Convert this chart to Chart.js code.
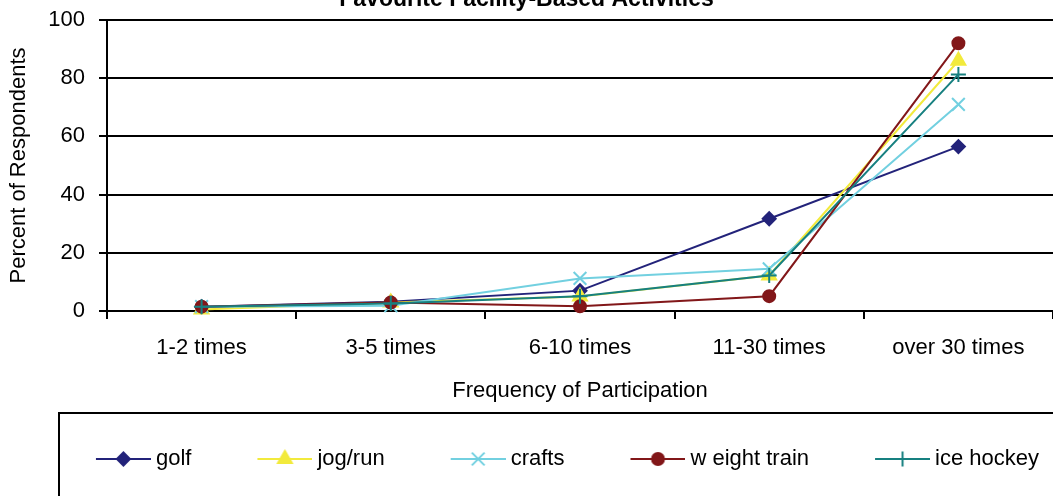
<!DOCTYPE html>
<html><head><meta charset="utf-8">
<script src="https://cdn.jsdelivr.net/npm/chart.js@4.4.0/dist/chart.umd.min.js"></script>
<style>
html,body{margin:0;padding:0;width:1053px;height:496px;overflow:hidden;background:#fff;}
#wrap{position:absolute;left:0;top:-20px;width:1053px;height:516px;}
canvas{display:block;}
</style></head><body>
<div id="wrap"><canvas id="c" width="1053" height="516"></canvas></div>
<script>
const categories = ['1-2 times', '3-5 times', '6-10 times', '11-30 times', 'over 30 times'];
const seriesNames = ['golf', 'jog/run', 'crafts', 'w eight train', 'ice hockey'];
const golf = [1.5, 3.2, 7.0, 31.7, 56.5];
const jogRun = [0.5, 2.9, 5.0, 12.2, 86.0];
const crafts = [1.5, 1.8, 11.2, 14.5, 71.0];
const weightTrain = [1.5, 2.9, 1.6, 5.1, 92.0];
const iceHockey = [1.5, 2.6, 5.1, 12.2, 81.3];
const yMin = 0, yMax = 100, yStep = 20;

const FONT = "'Liberation Sans', Arial, sans-serif";
Chart.defaults.font.family = FONT;
Chart.defaults.color = '#000';

const styles = [
  {color: '#23237a', pointStyle: 'rectRot', radius: 6.5},
  {color: '#f2ea3c', pointStyle: 'triangle', radius: 8},
  {color: '#72d0e0', pointStyle: 'crossRot', radius: 9},
  {color: '#821719', pointStyle: 'circle', radius: 6},
  {color: '#178080', pointStyle: 'cross', radius: 7.5}
];
const values = [golf, jogRun, crafts, weightTrain, iceHockey];

const datasets = values.map((v, i) => ({
  label: seriesNames[i],
  data: v,
  borderColor: styles[i].color,
  backgroundColor: styles[i].color,
  pointBackgroundColor: styles[i].color,
  pointBorderColor: styles[i].color,
  pointStyle: styles[i].pointStyle,
  pointRadius: styles[i].radius,
  pointHoverRadius: styles[i].radius,
  pointBorderWidth: 2,
  borderWidth: 2,
  tension: 0,
  fill: false,
  clip: false,
  order: values.length - i
}));

const B = 101, P = 14;
function legendImage(ds) {
  const iw = B + 12, ih = 22;
  const cv = document.createElement('canvas');
  cv.width = iw; cv.height = ih;
  const c = cv.getContext('2d');
  const x0 = B - 43, x1 = iw, cy = ih / 2;
  c.strokeStyle = ds.borderColor; c.lineWidth = 2;
  c.beginPath(); c.moveTo(x0, cy); c.lineTo(x1, cy); c.stroke();
  c.fillStyle = ds.pointBackgroundColor; c.strokeStyle = ds.pointBorderColor;
  const mx = (x0 + x1) / 2;
  if (Chart.helpers && Chart.helpers.drawPoint) {
    Chart.helpers.drawPoint(c, {pointStyle: ds.pointStyle, radius: ds.pointRadius, borderWidth: 2, rotation: 0}, mx, cy);
  }
  return cv;
}
const legendImgs = datasets.map(legendImage);

const legendFrame = {
  id: 'legendFrame',
  afterDraw(chart) {
    const lg = chart.legend, ctx = chart.ctx;
    ctx.save();
    ctx.strokeStyle = '#000'; ctx.lineWidth = 2;
    ctx.strokeRect(59, lg.top - 21, chart.width, 200);
    ctx.restore();
  }
};

new Chart(document.getElementById('c'), {
  type: 'line',
  data: {labels: categories, datasets},
  plugins: [legendFrame],
  options: {
    responsive: false,
    animation: false,
    events: [],
    layout: {autoPadding: false, padding: {left: 0, right: 0, top: 0, bottom: 16}},
    plugins: {
      title: {
        display: true,
        text: 'Favourite Facility-Based Activities',
        font: {size: 23, weight: 'bold', family: FONT},
        color: '#000',
        padding: {top: 5.5, bottom: 6.9}
      },
      legend: {
        display: true,
        position: 'bottom',
        align: 'end',
        labels: {
          usePointStyle: true,
          pointStyleWidth: B,
          padding: P,
          color: '#000',
          font: {size: 22, family: FONT},
          generateLabels: (chart) => chart.data.datasets.map((ds, i) => ({
            text: ds.label, pointStyle: legendImgs[i], datasetIndex: i,
            hidden: false, lineWidth: 0, fillStyle: 'transparent', strokeStyle: 'transparent', fontColor: '#000'
          }))
        }
      },
      tooltip: {enabled: false}
    },
    scales: {
      x: {
        type: 'category',
        offset: true,
        grid: {display: true, drawOnChartArea: false, drawTicks: true, tickLength: 8, color: '#000', lineWidth: 2, offset: true},
        border: {display: true, color: '#000', width: 2},
        ticks: {font: {size: 22, family: FONT}, color: '#000', padding: 16, maxRotation: 0, autoSkip: false},
        title: {display: true, text: 'Frequency of Participation', font: {size: 22, family: FONT}, color: '#000', padding: {top: 0, bottom: 30}},
        afterFit: (s) => { s.height = 123; }
      },
      y: {
        type: 'linear',
        min: yMin, max: yMax,
        grid: {display: true, drawTicks: true, tickLength: 8, color: '#000', lineWidth: 2},
        border: {display: true, color: '#000', width: 2},
        ticks: {stepSize: yStep, font: {size: 22, family: FONT}, color: '#000', padding: 14},
        title: {display: true, text: 'Percent of Respondents', font: {size: 22, family: FONT}, color: '#000', padding: {top: 6, bottom: 0}},
        afterFit: (s) => { s.width = 107; }
      }
    }
  }
});
</script>
</body></html>
